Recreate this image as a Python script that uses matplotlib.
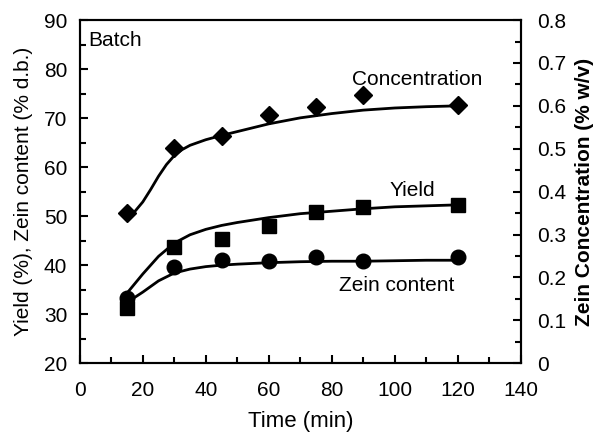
import matplotlib.pyplot as plt
from matplotlib.ticker import MultipleLocator

plt.rcParams["font.family"] = ["Liberation Sans", "DejaVu Sans"]

# measured points
time_min = [15, 30, 45, 60, 75, 90, 120]
yield_pct = [31.2, 43.7, 45.3, 48.0, 50.8, 51.8, 52.2]
zein_pct = [33.3, 39.6, 41.0, 40.8, 41.6, 40.8, 41.6]
conc_wv = [0.349, 0.502, 0.529, 0.578, 0.597, 0.625, 0.603]

# fitted curves
fit_t = [15, 20, 25, 30, 35, 40, 45, 50, 60, 70, 80, 90, 100, 110, 120]
yield_fit = [34.3, 38.2, 41.8, 44.5, 46.2, 47.3, 48.1, 48.7, 49.7, 50.5, 51.0, 51.5, 51.9, 52.1, 52.3]
zein_fit = [32.4, 34.5, 36.8, 38.4, 39.2, 39.7, 40.0, 40.2, 40.5, 40.7, 40.8, 40.8, 40.9, 41.0, 41.0]
conc_t = [17.5, 20, 22.5, 25, 27.5, 30, 32.5, 35, 40, 45, 50, 60, 70, 80, 90, 100, 110, 120]
conc_fit = [0.354, 0.376, 0.405, 0.436, 0.463, 0.484, 0.498, 0.508, 0.521, 0.531, 0.540, 0.558, 0.572, 0.582, 0.590, 0.595, 0.598, 0.600]

fig = plt.figure(figsize=(6.0, 4.36), dpi=100)
ax = fig.add_axes([0.133, 0.167, 0.735, 0.787])
ax2 = ax.twinx()

ax.plot(fit_t, yield_fit, color="black", linewidth=2)
ax.plot(fit_t, zein_fit, color="black", linewidth=2)
ax.plot(time_min, yield_pct, "s", color="black", markersize=10.5)
ax.plot(time_min, zein_pct, "o", color="black", markersize=10.5)

ax2.plot(conc_t, conc_fit, color="black", linewidth=2)
ax2.plot(time_min, conc_wv, "D", color="black", markersize=9.5)

ax.set_xlim(0, 140)
ax.set_ylim(20, 90)
ax2.set_ylim(0, 0.8)
ax.xaxis.set_major_locator(MultipleLocator(20))
ax.xaxis.set_minor_locator(MultipleLocator(10))
ax.yaxis.set_major_locator(MultipleLocator(10))
ax.yaxis.set_minor_locator(MultipleLocator(5))
ax2.yaxis.set_major_locator(MultipleLocator(0.1))
ax2.yaxis.set_minor_locator(MultipleLocator(0.05))
ax2.set_yticklabels(["0" if abs(v) < 1e-9 else f"{v:.1f}" for v in ax2.get_yticks()])

for a in (ax, ax2):
    a.tick_params(which="both", direction="in", width=1.5, labelsize=15, pad=7)
    a.tick_params(which="major", length=6)
    a.tick_params(which="minor", length=4)
    for s in a.spines.values():
        s.set_linewidth(1.5)
ax.tick_params(axis="y", right=False, pad=9)
ax.tick_params(axis="x", pad=13)
ax2.tick_params(axis="y", pad=12)

ax.set_xlabel("Time (min)", fontsize=16, labelpad=8)
ax.set_ylabel("Yield (%), Zein content (% d.b.)", fontsize=15, labelpad=8)
ax2.set_ylabel("Zein Concentration (% w/v)", fontsize=15, fontweight="bold", labelpad=6)

ax.text(0.02, 0.94, "Batch", transform=ax.transAxes, fontsize=15, va="center")
ax.text(107, 77.8, "Concentration", fontsize=15, ha="center", va="center")
ax.text(105.5, 55.3, "Yield", fontsize=15, ha="center", va="center")
ax.text(100.6, 35.9, "Zein content", fontsize=15, ha="center", va="center")

fig.savefig("out.png", dpi=100)
